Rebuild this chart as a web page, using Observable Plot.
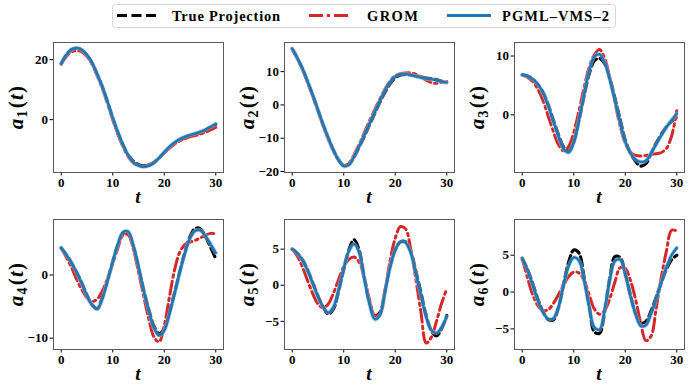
<!DOCTYPE html>
<html><head><meta charset="utf-8">
<script src="https://cdn.jsdelivr.net/npm/d3@7"></script>
<script src="https://cdn.jsdelivr.net/npm/@observablehq/plot@0.6"></script>
<style>
body{margin:0;background:#fff;}
#wrap{position:relative;width:689px;height:386px;overflow:hidden;background:#fff;}
.panel{position:absolute;}
#legend{position:absolute;left:0;top:0;}
</style></head>
<body><div id="wrap"></div>
<script>
const T = [0,1,2,3,4,5,6,7,8,9,10,11,12,13,14,15,16,17,18,19,20,21,22,23,24,25,26,27,28,29,30];

const true1 = [18.7,21.5,23.3,23.8,23.2,21.5,18.8,15.0,10.8,5.8,0.5,-4.3,-8.5,-11.8,-13.8,-15.0,-15.4,-15.2,-14.3,-12.8,-11.0,-9.3,-7.9,-6.8,-6.0,-5.4,-4.9,-4.3,-3.5,-2.6,-1.6];
const grom1 = [18.5,21.0,22.6,23.0,22.6,21.0,18.4,14.6,10.3,5.3,0.0,-4.9,-9.0,-12.3,-14.4,-15.3,-15.5,-15.0,-14.2,-12.7,-11.1,-9.5,-8.1,-7.1,-6.3,-5.7,-5.3,-4.8,-4.2,-3.4,-2.6];
const pgml1 = [18.6,21.6,23.4,23.9,23.3,21.6,18.9,15.1,10.9,5.9,0.6,-4.2,-8.4,-11.9,-14.2,-15.3,-15.7,-15.4,-14.3,-12.7,-10.8,-9.0,-7.6,-6.5,-5.7,-5.1,-4.6,-4.0,-3.3,-2.4,-1.4];

const true2 = [16.8,14.0,10.8,6.9,2.8,-1.6,-6.0,-10.0,-13.6,-16.5,-18.2,-17.8,-15.6,-12.6,-9.4,-6.0,-2.6,0.8,3.8,6.4,8.2,9.0,9.2,9.0,8.7,8.4,8.1,7.9,7.6,7.1,6.5];
const grom2 = [16.8,13.9,10.6,6.7,2.6,-1.8,-6.2,-10.2,-13.8,-16.6,-18.2,-17.5,-15.0,-11.8,-8.3,-4.8,-1.5,1.8,4.7,7.2,8.8,9.4,9.6,9.6,9.2,8.4,7.4,6.7,6.5,6.8,7.0];
const pgml2 = [16.9,14.1,10.9,7.0,2.9,-1.5,-5.9,-9.9,-13.6,-16.6,-18.4,-18.0,-15.6,-12.4,-9.0,-5.6,-2.2,1.2,4.3,6.9,8.5,9.2,9.3,9.0,8.6,8.2,7.9,7.7,7.4,7.0,6.7];

const true3 = [6.8,6.6,6.1,5.2,3.9,1.8,-0.8,-3.3,-5.4,-6.2,-4.6,-1.0,3.2,7.0,9.2,9.6,8.7,6.2,2.8,-0.8,-4.3,-6.5,-7.9,-8.7,-8.3,-6.6,-4.8,-3.3,-2.0,-1.1,-0.4];
const grom3 = [6.8,6.4,5.7,4.4,2.5,-0.1,-2.7,-5.0,-6.1,-5.4,-3.0,0.6,4.6,8.1,10.2,11.1,9.6,6.3,2.2,-1.9,-4.8,-6.3,-6.9,-7.0,-6.9,-6.7,-6.6,-6.4,-5.7,-3.6,0.7];
const pgml3 = [6.8,6.6,6.1,5.2,3.8,1.6,-1.0,-3.6,-5.7,-6.4,-4.7,-0.9,3.5,7.5,9.9,10.3,8.9,6.0,2.4,-1.3,-4.6,-6.5,-7.6,-8.0,-7.8,-6.6,-5.0,-3.5,-2.1,-0.9,0.2];

const true4 = [4.3,3.2,1.9,0.4,-1.3,-3.2,-4.7,-5.3,-3.5,-0.8,2.1,4.8,6.6,6.6,4.5,1.2,-2.4,-5.5,-8.1,-9.3,-8.5,-5.9,-2.8,0.5,3.6,6.1,7.4,7.3,6.1,4.4,2.6];
const grom4 = [4.3,2.8,1.2,-0.7,-2.3,-3.6,-4.2,-3.8,-2.5,-0.5,1.8,4.3,6.3,6.4,4.1,0.5,-3.3,-7.0,-9.8,-10.6,-8.0,-3.5,0.8,3.6,4.8,5.2,5.5,5.9,6.3,6.6,6.5];
const pgml4 = [4.3,3.2,1.9,0.4,-1.4,-3.3,-4.8,-5.4,-3.7,-0.9,2.1,4.9,6.8,6.9,4.7,1.3,-2.4,-5.7,-8.4,-9.6,-8.8,-6.2,-3.0,0.4,3.4,5.8,7.0,7.1,6.2,4.9,3.5];

const true5 = [5.0,4.4,3.5,2.1,0.3,-1.5,-3.0,-4.0,-3.3,-0.8,2.2,4.9,6.3,4.8,1.0,-2.4,-4.2,-3.8,-0.8,2.6,4.9,6.0,6.0,4.7,1.9,-1.1,-4.2,-6.3,-7.0,-6.0,-4.2];
const grom5 = [5.0,4.0,2.5,0.6,-1.2,-2.6,-3.1,-2.6,-1.1,0.8,2.6,3.6,3.9,3.2,1.0,-2.0,-4.2,-4.0,-0.8,3.4,6.5,8.1,7.8,5.0,0.8,-3.8,-8.0,-7.2,-5.0,-2.5,-0.5];
const pgml5 = [5.0,4.4,3.4,2.0,0.2,-1.6,-3.0,-3.8,-3.0,-0.6,2.3,4.7,5.7,4.5,0.9,-2.6,-4.7,-4.2,-1.0,2.5,4.9,6.0,5.9,4.5,1.6,-1.5,-4.4,-6.2,-6.6,-5.8,-4.4];

const true6 = [4.6,3.1,1.2,-0.9,-2.6,-3.7,-3.8,-2.2,1.0,4.0,5.7,5.3,2.0,-1.9,-5.4,-5.6,-2.6,1.9,4.8,4.7,2.5,-0.4,-2.9,-4.2,-4.0,-2.6,-0.7,1.3,3.1,4.4,5.0];
const grom6 = [4.5,2.0,-0.3,-1.8,-2.5,-2.4,-1.6,-0.4,0.9,2.1,2.7,2.6,1.6,-0.4,-2.3,-3.0,-2.5,-0.9,1.4,3.3,3.2,1.6,-1.0,-4.2,-6.6,-6.0,-2.2,2.0,5.6,8.4,8.3];
const pgml6 = [4.5,3.0,1.0,-1.1,-2.7,-3.6,-3.6,-2.1,0.8,3.5,4.7,4.3,1.6,-2.0,-4.8,-5.1,-2.4,1.6,4.2,4.4,2.4,-0.5,-3.0,-4.6,-4.5,-3.0,-1.0,1.3,3.4,5.0,6.0];

const seriesNames = ["True Projection", "GROM", "PGML\u2013VMS\u20132"];
const xTicks = [0,10,20,30];
const yDomains = [[-17.6,25.7],[-20.3,18.75],[-9.8,12.3],[-11.8,8.8],[-8.9,9.1],[-7.8,9.85]];
const yTicks = [[0,20],[-20,-10,0,10],[0,10],[-10,0],[-5,0,5],[-5,0,5]];
const panels = [[true1,grom1,pgml1],[true2,grom2,pgml2],[true3,grom3,pgml3],[true4,grom4,pgml4],[true5,grom5,pgml5],[true6,grom6,pgml6]];

const BLACK = "#000000", RED = "#d62728", BLUE = "#1f77b4", BLUE_LIGHT = "#8dbde0";
const FONT = "'Liberation Serif', 'Times New Roman', serif";
const ML = 53, MR = 8, MT = 5, MB = 45, FW = 170, FH = 130;
const lefts = [0, 231, 461], tops = [37, 214];

const wrap = document.getElementById("wrap");
const toRows = arr => T.map((t, i) => ({t, v: arr[i]}));

panels.forEach((p, k) => {
  const [tr, gr, pg] = p.map(toRows);
  const chart = Plot.plot({
    width: ML + FW + MR, height: MT + FH + MB,
    marginLeft: ML, marginRight: MR, marginTop: MT, marginBottom: MB,
    style: {fontFamily: FONT, fontSize: "13px", fontWeight: "bold", background: "transparent", overflow: "visible", color: "#000"},
    x: {domain: [-1.5, 31.5], ticks: xTicks, tickSize: 3.5, tickPadding: 2, label: null},
    y: {domain: yDomains[k], ticks: yTicks[k], tickSize: 3.5, tickPadding: 2, label: null, tickFormat: d => d < 0 ? "\u2212" + Math.abs(d) : String(d)},
    marks: [
      Plot.line(tr, {x: "t", y: "v", curve: "catmull-rom", stroke: BLACK, strokeWidth: 3.2, strokeDasharray: "9,4"}),
      Plot.line(gr, {x: "t", y: "v", curve: "catmull-rom", stroke: RED, strokeWidth: 3, strokeDasharray: "13,4,2.5,4"}),
      Plot.line(pg, {x: "t", y: "v", curve: "catmull-rom", stroke: BLUE_LIGHT, strokeWidth: 4.2, strokeOpacity: 0.6}),
      Plot.line(pg, {x: "t", y: "v", curve: "catmull-rom", stroke: BLUE, strokeWidth: 2.5}),
      Plot.frame({stroke: "#5a5a5a", strokeWidth: 1})
    ]
  });
  chart.classList.add("panel");
  chart.style.left = lefts[k % 3] + "px";
  chart.style.top = tops[Math.floor(k / 3)] + "px";
  const svg = d3.select(chart);
  const yl = svg.append("text")
    .attr("transform", `translate(${ML - 37},${MT + FH / 2}) rotate(-90)`)
    .attr("text-anchor", "middle").attr("dy", "0.35em")
    .attr("font-family", FONT).attr("font-weight", "bold").attr("font-size", 21)
    .attr("letter-spacing", 1.2).attr("fill", "#000");
  yl.append("tspan").attr("font-style", "italic").text("a");
  yl.append("tspan").attr("font-size", 14).attr("dy", 4).text(String(k + 1));
  yl.append("tspan").attr("dy", -4).attr("dx", 1).text("(");
  yl.append("tspan").attr("font-style", "italic").text("t");
  yl.append("tspan").text(")");
  svg.append("text")
    .attr("x", ML + FW / 2).attr("y", MT + FH + 24).attr("dy", "0.35em")
    .attr("text-anchor", "middle").attr("font-family", FONT).attr("font-weight", "bold")
    .attr("font-style", "italic").attr("font-size", 19).attr("fill", "#000").text("t");
  wrap.appendChild(chart);
});

const leg = d3.select(wrap).append("svg").attr("id", "legend").attr("width", 689).attr("height", 34);
leg.append("rect").attr("x", 112.5).attr("y", 4.5).attr("width", 503).attr("height", 23).attr("rx", 3)
  .attr("fill", "#fff").attr("stroke", "#d8d8d8");
const items = [
  {x1: 117, x2: 157, tx: 172, w: 108, color: BLACK, dash: "10,4.5", name: seriesNames[0]},
  {x1: 309, x2: 352, tx: 367, w: 51, color: RED, dash: "14,4,3,4", name: seriesNames[1]},
  {x1: 447, x2: 491, tx: 502, w: 107, color: BLUE, dash: null, name: seriesNames[2]}
];
items.forEach(it => {
  const l = leg.append("line").attr("x1", it.x1).attr("x2", it.x2).attr("y1", 15.5).attr("y2", 15.5)
    .attr("stroke", it.color).attr("stroke-width", 3);
  if (it.dash) l.attr("stroke-dasharray", it.dash);
  leg.append("text").attr("x", it.tx).attr("y", 15.5).attr("dy", "0.35em")
    .attr("font-family", FONT).attr("font-weight", "bold").attr("font-size", 14.5).attr("fill", "#000")
    .attr("textLength", it.w).attr("lengthAdjust", "spacing").text(it.name);
});
</script></body></html>
